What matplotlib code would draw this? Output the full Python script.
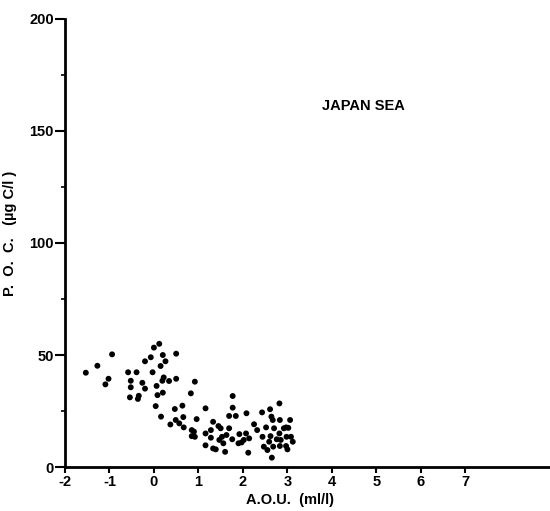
import numpy as np
import matplotlib
matplotlib.use("Agg")
import matplotlib.pyplot as plt
from matplotlib.ticker import MultipleLocator

# AOU (ml/l) and POC (ugC/l)
aou = [-1.53, -1.27, -0.94, -1.09, -1.02, -0.58, -0.39, -0.52, -0.52, -0.54,
       -0.34, -0.36, -0.26, -0.20, -0.20, -0.07, 0.00, 0.12, -0.03, 0.20,
       0.15, 0.26, 0.06, 0.08, 0.20, 0.22, 0.19, 0.34, 0.04, 0.16,
       0.50, 0.50, 0.47, 0.64, 0.49, 0.37, 0.57, 0.66, 0.67, 0.92,
       0.83, 0.96, 0.85, 0.90, 0.85, 0.92,
       1.16, 1.16, 1.16, 1.33, 1.28, 1.28, 1.33, 1.39, 1.45, 1.50,
       1.47, 1.53, 1.56, 1.60, 1.63, 1.69, 1.69, 1.77, 1.77, 1.84,
       1.76, 1.92, 1.90, 1.97, 2.02, 2.07, 2.14, 2.08, 2.12, 2.25,
       2.32, 2.43, 2.44, 2.47, 2.52, 2.55, 2.61, 2.65, 2.64, 2.67,
       2.62, 2.59, 2.68, 2.70, 2.82, 2.83, 2.82, 2.76, 2.85, 2.83,
       2.92, 2.97, 3.06, 3.02, 2.98, 3.08, 3.12, 2.97, 3.00]
poc = [42.1, 45.2, 50.3, 36.9, 39.4, 42.3, 42.3, 38.5, 35.6, 31.1,
       31.8, 30.4, 37.6, 35.0, 47.2, 49.0, 53.3, 55.0, 42.3, 50.0,
       45.1, 47.2, 36.2, 32.1, 33.2, 40.0, 38.5, 38.4, 27.2, 22.5,
       50.6, 39.4, 25.9, 27.4, 21.0, 19.0, 19.5, 22.3, 17.7, 38.1,
       32.9, 21.4, 16.5, 15.8, 13.8, 13.5,
       26.2, 15.0, 9.7, 20.2, 16.5, 13.1, 8.3, 7.9, 18.3, 17.3,
       12.1, 13.5, 10.6, 6.8, 14.3, 17.3, 22.8, 31.7, 26.5, 22.8,
       12.4, 14.7, 10.6, 11.0, 12.1, 15.0, 12.8, 24.0, 6.4, 19.1,
       16.5, 24.4, 13.5, 9.1, 17.7, 7.6, 25.8, 4.2, 22.5, 21.0,
       13.8, 11.3, 9.1, 17.3, 28.4, 21.0, 15.0, 12.4, 12.1, 9.4,
       17.3, 17.7, 21.0, 17.5, 13.5, 13.5, 11.3, 9.4, 7.9]

xticks = [-2, -1, 0, 1, 2, 3, 4, 5, 6, 7]
yticks = [0, 50, 100, 150, 200]

plt.rcParams['font.family'] = ['Liberation Sans', 'DejaVu Sans']

fig = plt.figure(figsize=(5.5, 5.11), dpi=100)
ax = fig.add_axes([0.118, 0.086, 0.882, 0.877])

ax.scatter(aou, poc, s=18, color='black', edgecolors='none', zorder=3)

ax.set_xlim(-2, 8.9)
ax.set_ylim(0, 200)
ax.set_xticks(xticks)
ax.set_xticklabels([str(t) for t in xticks], fontweight='bold', fontsize=10.5)
ax.set_yticks(yticks)
ax.set_yticklabels([str(t) for t in yticks], fontweight='bold', fontsize=10.5)
ax.yaxis.set_minor_locator(MultipleLocator(25))

ax.tick_params(axis='y', which='major', direction='out', length=7, width=1.5, pad=1)
ax.tick_params(axis='y', which='minor', direction='out', length=3, width=1.2)
ax.tick_params(axis='x', which='major', direction='out', length=4, width=1.5, pad=2)

for s in ['top', 'right']:
    ax.spines[s].set_visible(False)
for s in ['left', 'bottom']:
    ax.spines[s].set_linewidth(2)

ax.set_xlabel('A.O.U.  (ml/l)', fontweight='bold', fontsize=10.5)
ax.xaxis.set_label_coords(0.464, -0.058)
ax.set_ylabel('P.  O.  C.   (\u00b5g C/l )', fontweight='bold', fontsize=10.5)
ax.yaxis.set_label_coords(-0.099, 0.522)

ax.text(3.78, 161, 'JAPAN SEA', fontweight='bold', fontsize=10.5, va='center')

fig.savefig('out.png', dpi=100)
